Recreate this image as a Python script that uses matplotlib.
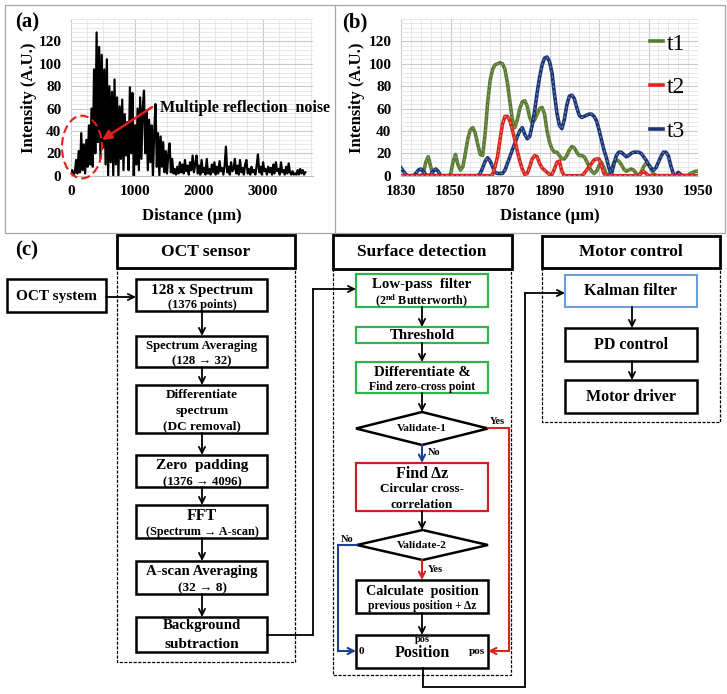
import numpy as np
import matplotlib
matplotlib.use('Agg')
import matplotlib.pyplot as plt
from matplotlib.patches import Rectangle, Polygon, Ellipse
from matplotlib.lines import Line2D

# ---------------- data ----------------
# panel (a): A-scan intensity, sampled every 20 um starting at 0
a_step = 20
a_vals = [2, 5, 0, 3,
          14, 2, 22, 3, 38, 5, 28, 2, 32, 8, 45, 10,
          60, 8, 95, 20, 128, 30, 115, 15, 108, 25, 95, 10, 104, 0, 80, 12, 75, 0, 86, 10,
          70, 0, 62, 15, 68, 5, 55, 18, 48, 5, 79, 20, 74, 0, 45, 10, 60, 5, 70, 15,
          60, 76, 20, 58, 5, 50, 12, 45, 0, 40, 64, 8, 38, 0, 35, 8, 30, 3, 22, 2,
          20, 29, 3, 15, 2,
          6, 1, 8, 2, 12, 3, 10, 2, 14, 4, 9, 1, 12, 5, 18, 3, 10, 18, 2, 9,
          1, 14, 3, 7, 1, 15, 2, 6, 1, 10, 3, 12, 1, 8, 2, 13, 4, 7, 1, 9,
          26, 3, 8, 1, 12, 4, 6, 15, 2, 9, 1, 14, 3, 7, 1, 10, 14, 2, 6, 1,
          8, 3, 5, 1, 9, 19, 3, 8, 1, 12, 4, 6, 1, 8, 3, 7, 1, 10, 2, 12,
          4, 6, 1, 12, 3, 5, 1, 8, 2, 11, 3, 1, 4, 1, 2, 1, 5, 1, 6, 2,
          5, 1, 3]

# panel (b): three smoothed A-scans, 1 um steps from 1830 to 1950
b_start = 1830
t1 = [0, 0, 0, 0, 0, 0, 0, 0, 0,
      2, 12, 17, 8, 0, 0, 0, 0, 0, 0, 0,
      1, 12, 19, 10, 5, 8, 20, 33, 41, 43,
      38, 28, 19, 18, 38, 65, 85, 95, 99, 100,
      101, 100, 95, 83, 66, 50, 43, 50, 60, 66,
      67, 62, 52, 47, 50, 55, 60, 61, 55, 40,
      30, 24, 21, 21, 18, 15, 15, 18, 23, 26,
      25, 21, 18, 18, 17, 13, 8, 4, 2, 4,
      9, 12, 7, 1, 0, 5, 12, 14, 13, 10,
      6, 4, 5, 6, 5, 2, 0, 3, 8, 11,
      10, 6, 2, 0, 0, 0, 0, 0, 0, 0,
      0, 0, 0, 0, 0, 0, 0.5, 2, 3, 4, 4]
t2 = [0] * 30 + \
     [0, 0, 0, 0, 0, 0, 0, 1, 8, 17,
      32, 46, 53, 53, 49, 41, 32, 22, 13, 6,
      1, 2, 8, 15, 18, 17, 11, 7, 5, 3,
      1, 1, 6, 12, 13, 4, 0, 0, 0, 0,
      0, 0, 0, 0, 2, 5, 8, 11, 14, 15,
      15, 9, 2, 0, 0, 0, 0, 0, 0, 0,
      0, 0, 0, 0, 0, 0, 0, 2, 4, 2] + [0] * 21
t3 = [7, 4, 1, 0, 0, 0, 2, 5, 6, 4,
      1, 0, 1, 4, 6, 4, 0, 0, 0, 0,
      0, 0, 0, 0, 0, 0, 0, 0, 0, 0,
      0, 0, 2, 7, 13, 16, 13, 8, 3, 2,
      2, 2, 5, 11, 17, 23, 29, 35, 40, 43,
      37, 33, 35, 45, 58, 74, 88, 99, 105, 106,
      102, 92, 73, 56, 45, 42, 50, 63, 71, 72,
      69, 61, 54, 52, 53, 54, 55, 55, 53, 49,
      41, 32, 23, 16, 7, 1, 10, 18, 21, 21,
      19, 17, 18, 20, 21, 21, 21, 20, 17, 14,
      10, 7, 5, 7, 12, 17, 21, 21, 18, 9,
      2, 0, 3, 1, 0, 0, 0, 0, 0, 0, 0]
series_names = ['t1', 't2', 't3']

a_xticks = [0, 1000, 2000, 3000]
b_xticks = [1830, 1850, 1870, 1890, 1910, 1930, 1950]
y_ticks = [0, 20, 40, 60, 80, 100, 120]

# ---------------- style ----------------
SERIF = ['Liberation Serif', 'DejaVu Serif']
plt.rcParams['font.family'] = SERIF
plt.rcParams['font.weight'] = 'bold'
plt.rcParams['mathtext.fontset'] = 'custom'
plt.rcParams['mathtext.rm'] = 'Liberation Serif:bold'
plt.rcParams['mathtext.bf'] = 'Liberation Serif:bold'
plt.rcParams['mathtext.it'] = 'Liberation Serif:bold:italic'

W, H = 727, 694
fig = plt.figure(figsize=(W / 100, H / 100), dpi=100)


def px_axes(x0, y0, x1, y1):
    return fig.add_axes([x0 / W, 1 - y1 / H, (x1 - x0) / W, (y1 - y0) / H])


ov = fig.add_axes([0, 0, 1, 1])
ov.set_xlim(0, W)
ov.set_ylim(H, 0)
ov.axis('off')

AX_TOP, AX_BOT = 19, 175.7
ax_a = px_axes(71, AX_TOP, 313, AX_BOT)
ax_b = px_axes(401, AX_TOP, 698, AX_BOT)


def style(ax, xlim, xticks, xminor):
    ax.set_xlim(*xlim)
    ax.set_ylim(0, 140)
    ax.set_xticks(xticks)
    ax.set_yticks(y_ticks)
    ax.set_xticks(xminor, minor=True)
    ax.set_yticks(np.arange(0, 141, 4), minor=True)
    ax.grid(True, which='minor', color='#e4e4e4', lw=0.6)
    ax.grid(True, which='major', color='#c9c9c9', lw=0.8)
    ax.tick_params(which='both', length=0)
    ax.tick_params(axis='y', pad=7, labelsize=11)
    ax.tick_params(axis='x', pad=7, labelsize=11)
    for s in ['top', 'right', 'left']:
        ax.spines[s].set_visible(False)
    ax.spines['bottom'].set_color('#bfbfbf')
    ax.set_axisbelow(True)
    for lab in ax.get_xticklabels() + ax.get_yticklabels():
        lab.set_fontweight('bold')
    ax.set_ylabel('Intensity (A.U.)', fontsize=12, fontweight='bold')
    ax.set_xlabel('Distance (µm)', fontsize=12, fontweight='bold')
    hpx = AX_BOT - AX_TOP
    ax.xaxis.set_label_coords(0.5, (AX_BOT - 208) / hpx)


# panel (a)
a_x = np.arange(len(a_vals)) * a_step
ax_a.plot(a_x, a_vals, color='black', lw=1.6)
style(ax_a, (0, 3780), a_xticks, np.arange(0, 3781, 250))
ax_a.yaxis.set_label_coords((37 - 71) / 242, 0.5)

red = '#e0201c'
ax_a.add_patch(Ellipse((172, 25.6), 625, 56, fill=False, ec=red, lw=1.5,
                       ls=(0, (4, 2)), clip_on=False, zorder=5))
ax_a.annotate('', xy=(484, 31.9), xytext=(1266, 61.3),
              arrowprops=dict(arrowstyle='-|>', color=red, lw=1.8,
                              mutation_scale=14, shrinkA=0, shrinkB=0),
              annotation_clip=False, zorder=6)
ax_a.text(1390, 60.4, 'Multiple reflection  noise', ha='left', va='center',
          fontsize=11.5, fontweight='bold', clip_on=False)

# panel (b)
b_x = np.arange(len(t1)) + b_start
cols = ['#5b7a32', '#d7261f', '#1b3471']
cores = ['#8fa870', '#f08a86', '#7d9bd0']
zs = [3, 5, 4]
handles = []
for vals, c, core, z in zip([t1, t2, t3], cols, cores, zs):
    ax_b.plot(b_x, vals, color=c, lw=2.6, zorder=z, solid_joinstyle='round')
    ax_b.plot(b_x, vals, color=core, lw=0.6, ls=(0, (3, 3)), zorder=z + 0.1)
    handles.append(Line2D([0], [0], color=c, lw=2.6))
style(ax_b, (1830, 1950), b_xticks, np.arange(1830, 1951, 4))
ax_b.yaxis.set_label_coords((365 - 401) / 297, 0.5)
ax_b.legend(handles, series_names, loc='upper left',
            bbox_to_anchor=((650 - 401) / 297, (AX_BOT - 33) / (AX_BOT - AX_TOP)),
            frameon=False, prop=dict(family=SERIF, weight='normal', size=17),
            handlelength=0.55, handletextpad=0.15, labelspacing=0.95,
            borderpad=0, borderaxespad=0)

# panel borders and labels
ov.add_patch(Rectangle((4.5, 4.5), 720, 228, fill=False, ec='#a6a6a6', lw=0.9))
ov.plot([334.5, 334.5], [4.5, 232.5], color='#a6a6a6', lw=0.9)
ov.text(27, 22, '(a)', ha='center', va='center', fontsize=15, fontweight='bold')
ov.text(355, 22, '(b)', ha='center', va='center', fontsize=15, fontweight='bold')
ov.text(27, 250, '(c)', ha='center', va='center', fontsize=15, fontweight='bold')


# ---------------- flowchart (pixel coordinates) ----------------
def box(x0, y0, x1, y1, ec='black', lw=1.8, ls='-'):
    ov.add_patch(Rectangle((x0, y0), x1 - x0, y1 - y0, fill=False, ec=ec, lw=lw, ls=ls))


def txt(x, y, s, size, ha='center'):
    ov.text(x, y, s, ha=ha, va='center', fontsize=size, fontweight='bold')


def path(pts, color='black', lw=1.3, head=True):
    xs = [p[0] for p in pts]
    ys = [p[1] for p in pts]
    if head:
        if len(pts) > 2:
            ov.plot(xs[:-1], ys[:-1], color=color, lw=lw, solid_joinstyle='miter')
        ov.annotate('', xy=pts[-1], xytext=pts[-2],
                    arrowprops=dict(arrowstyle='->', color=color, lw=lw,
                                    mutation_scale=11, shrinkA=0, shrinkB=0))
    else:
        ov.plot(xs, ys, color=color, lw=lw)


def diamond(l, r, t, b):
    cx, cy = (l + r) / 2, (t + b) / 2
    ov.add_patch(Polygon([(l, cy), (cx, t), (r, cy), (cx, b)], closed=True,
                         fill=False, ec='black', lw=1.8))


DASH = (0, (2.5, 1.2))
# OCT sensor column
box(117, 235, 295, 268, lw=2)
txt(206, 252, 'OCT sensor', 12.5)
box(117, 268, 295, 662, lw=0.9, ls=DASH)
box(7, 279, 106, 312)
txt(56, 296, 'OCT system', 11)
path([(106, 297), (136, 297)])

box(136, 279, 267, 311)
txt(202, 290, '128 x Spectrum', 11)
txt(202, 305, '(1376 points)', 9)
box(136, 336, 267, 367)
txt(202, 346, 'Spectrum Averaging', 9.2)
txt(202, 361, '(128 → 32)', 9.2)
box(136, 385, 267, 433)
txt(202, 395, 'Differentiate', 9.5)
txt(202, 411, 'spectrum', 9.5)
txt(202, 426, '(DC removal)', 9.5)
box(136, 455, 267, 487)
txt(202, 465, 'Zero  padding', 11)
txt(202, 482, '(1376 → 4096)', 9.2)
box(136, 505, 267, 538)
txt(202, 516, 'FFT', 11.5)
txt(202, 532, '(Spectrum → A-scan)', 8.8)
box(136, 561, 267, 594)
txt(202, 571, 'A-scan Averaging', 10.7)
txt(202, 588, '(32 → 8)', 9.5)
box(136, 617, 267, 652)
txt(202, 626, 'Background', 10.7)
txt(202, 644, 'subtraction', 11)
for y0, y1 in [(311, 336), (367, 385), (433, 455), (487, 505), (538, 561), (594, 617)]:
    path([(202, y0), (202, y1)])
path([(267, 635), (313, 635), (313, 289), (356, 289)])

# Surface detection column
green = '#2eb34f'
box(333, 235, 512, 269, lw=2)
txt(422, 252, 'Surface detection', 12.5)
box(333, 269, 511, 675, lw=0.9, ls=DASH)
box(356, 274, 488, 307, ec=green, lw=1.6)
txt(422, 284, 'Low-pass  filter', 10.7)
txt(422, 301, '(2$^{\\rm nd}$ Butterworth)', 8.7)
box(356, 327, 488, 343, ec=green, lw=1.6)
txt(422, 335, 'Threshold', 10.7)
box(356, 362, 488, 393, ec=green, lw=1.6)
txt(422, 372, 'Differentiate &', 10.7)
txt(422, 387, 'Find zero-cross point', 8.5)
for y0, y1 in [(307, 327), (343, 362), (393, 412)]:
    path([(422, y0), (422, y1)])
diamond(356, 488, 412, 445)
txt(422, 428, 'Validate-1', 8.2)
txt(497, 421, 'Yes', 7.5)
path([(488, 428), (509, 428), (509, 651), (488, 651)], color='#d7261f', lw=1.5)
path([(422, 445), (422, 463)], color='#1f3f8f', lw=1.5)
txt(434, 452, 'No', 7.5)
box(356, 463, 488, 511, ec='#c8202a', lw=1.6)
txt(422, 474, 'Find Δz', 11.5)
txt(422, 489, 'Circular cross-', 9.5)
txt(422, 505, 'correlation', 9.5)
path([(422, 511), (422, 530)])
diamond(357, 488, 530, 560)
txt(422, 545, 'Validate-2', 8.2)
txt(347, 539, 'No', 7.5)
path([(357, 545), (338, 545), (338, 651), (356, 651)], color='#1f3f8f', lw=1.5)
path([(422, 560), (422, 580)], color='#d7261f', lw=1.5)
txt(435, 570, 'Yes', 7.5)
box(356, 580, 488, 613)
txt(422, 591, 'Calculate  position', 10.2)
txt(422, 606, 'previous position + Δz', 8.3)
path([(422, 613), (422, 635)])
box(356, 635, 488, 668)
txt(422, 653, 'Position', 11.5)
txt(422, 640, 'pos', 7.5)
txt(361, 652, '0', 8)
txt(477, 652, 'pos', 8)
path([(423, 668), (423, 687), (525, 687), (525, 293), (565, 293)])

# Motor control column
box(542, 236, 720, 268, lw=2)
txt(631, 252, 'Motor control', 12.5)
box(542, 268, 720, 422, lw=0.9, ls=DASH)
box(565, 275, 697, 307, ec='#6a9fd8', lw=1.5)
txt(631, 291, 'Kalman filter', 11.5)
box(565, 328, 697, 361)
txt(631, 345, 'PD control', 11.5)
box(565, 380, 697, 413)
txt(631, 397, 'Motor driver', 11.5)
for y0, y1 in [(307, 328), (361, 380)]:
    path([(632, y0), (632, y1)])

fig.savefig('out.png', dpi=100)
